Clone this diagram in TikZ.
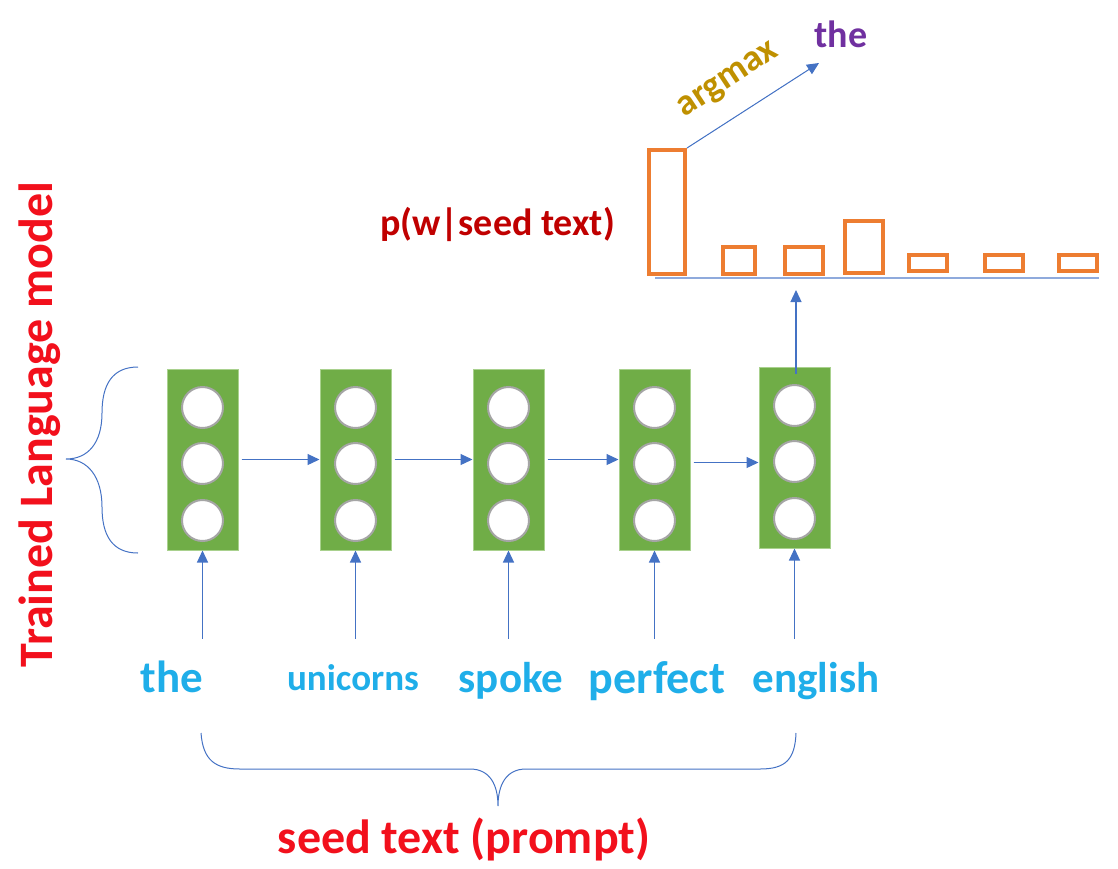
\documentclass[tikz,border=0pt]{standalone}
\usepackage{fontspec}
\setmainfont{Carlito}
\usetikzlibrary{arrows.meta, positioning}

\definecolor{cellgreen}{HTML}{70AD47}
\definecolor{edgegreen}{HTML}{A9D18E}
\definecolor{unitgray}{HTML}{A5A5A5}
\definecolor{lineblue}{HTML}{4472C4}
\definecolor{axisblue}{HTML}{8FAADC}
\definecolor{wordblue}{HTML}{1FAEE9}
\definecolor{barorange}{HTML}{ED7D31}
\definecolor{titlered}{HTML}{F2101C}
\definecolor{probred}{HTML}{C00000}
\definecolor{argold}{HTML}{BF9000}
\definecolor{outpurple}{HTML}{7030A0}

\begin{document}
\begin{tikzpicture}[
	x=1pt, y=-1pt,
	layer/.style={draw=edgegreen, fill=cellgreen, line width=1pt, minimum width=71pt, minimum height=181pt, inner sep=0pt},
	unit/.style={circle, draw=unitgray, fill=white, line width=2pt, minimum size=41pt, inner sep=0pt},
	arrow/.style={-{Triangle[length=12pt, width=11pt]}, draw=lineblue, fill=lineblue, line width=1.2pt},
	bar/.style={draw=barorange, fill=white, line width=4pt, inner sep=0pt, anchor=south},
	word/.style={text=wordblue, anchor=base},
	brace/.style={draw=lineblue, line width=1pt}
	]
	\useasboundingbox (0,0) rectangle (1118,868);
	
	% ======================
	% Schichten (RNN)
	% ======================
	\node[layer] (b1) at (202.5,459.5) {};
	\node[layer] (b2) at (355.5,459.5) {};
	\node[layer] (b3) at (508.5,459.5) {};
	\node[layer] (b4) at (654.5,459.5) {};
	\node[layer] (b5) at (794.5,457.5) {};
	
	% Neuronen
	\node[unit] (u11) at ([yshift=52pt]b1.center) {};
	\node[unit] (u12) at ([yshift=-4pt]b1.center) {};
	\node[unit] (u13) at ([yshift=-61pt]b1.center) {};
	\node[unit] (u21) at ([yshift=52pt]b2.center) {};
	\node[unit] (u22) at ([yshift=-4pt]b2.center) {};
	\node[unit] (u23) at ([yshift=-61pt]b2.center) {};
	\node[unit] (u31) at ([yshift=52pt]b3.center) {};
	\node[unit] (u32) at ([yshift=-4pt]b3.center) {};
	\node[unit] (u33) at ([yshift=-61pt]b3.center) {};
	\node[unit] (u41) at ([yshift=52pt]b4.center) {};
	\node[unit] (u42) at ([yshift=-4pt]b4.center) {};
	\node[unit] (u43) at ([yshift=-61pt]b4.center) {};
	\node[unit] (u51) at ([yshift=52pt]b5.center) {};
	\node[unit] (u52) at ([yshift=-4pt]b5.center) {};
	\node[unit] (u53) at ([yshift=-61pt]b5.center) {};
	
	% Verbindungen zwischen den Schichten
	\draw[arrow] ([xshift=3pt]b1.east) -- (b2.west);
	\draw[arrow] ([xshift=3pt]b2.east) -- (b3.west);
	\draw[arrow] ([xshift=3pt]b3.east) -- (b4.west);
	\draw[arrow] ([xshift=3pt,yshift=-3pt]b4.east) -- ([yshift=-3pt]b4.east -| b5.west);
	
	% ======================
	% Eingabe (seed text)
	% ======================
	\node[word, font=\fontsize{45}{50}\selectfont\bfseries] (w1) at (172,692) {the};
	\node[word, font=\fontsize{37}{42}\selectfont\bfseries] (w2) at (353,690) {unicorns};
	\node[word, font=\fontsize{43}{48}\selectfont\bfseries] (w3) at (511,692) {spoke};
	\node[word, font=\fontsize{46}{50}\selectfont\bfseries] (w4) at (657,693) {perfect};
	\node[word, font=\fontsize{43}{48}\selectfont\bfseries] (w5) at (816,692) {english};
	
	\draw[arrow] ([yshift=-88pt]b1.south) -- (b1.south);
	\draw[arrow] ([yshift=-88pt]b2.south) -- (b2.south);
	\draw[arrow] ([yshift=-88pt]b3.south) -- (b3.south);
	\draw[arrow] ([yshift=-88pt]b4.south) -- (b4.south);
	\draw[arrow] ([yshift=-90pt]b5.south) -- (b5.south);
	
	% geschweifte Klammer unten
	\draw[brace] (201,733) .. controls (203,760) and (215,769) .. (240,769) -- (470,769)
		.. controls (490,769) and (498,785) .. (498,806)
		.. controls (498,785) and (506,769) .. (526,769) -- (760,769)
		.. controls (785,769) and (795,760) .. (796,733);
	\node[text=titlered, font=\fontsize{48}{52}\selectfont\bfseries, anchor=base] (seed) at (464,853) {seed text (prompt)};
	
	% geschweifte Klammer links
	\draw[brace] (138,367) .. controls (112,367) and (102,385) .. (102,413)
		.. controls (102,443) and (88,459) .. (66,459)
		.. controls (88,459) and (102,477) .. (102,507)
		.. controls (102,535) and (112,553) .. (138,553);
	\node[text=titlered, font=\fontsize{48}{52}\selectfont\bfseries, anchor=base, rotate=90] (model) at (52,424.5) {Trained Language model};
	
	% ======================
	% Ausgabeverteilung
	% ======================
	\coordinate (ax0) at (655,278);
	\coordinate (ax1) at (1099,278);
	\draw[axisblue, line width=1.5pt] (ax0) -- (ax1);
	
	\node[bar, minimum width=36pt, minimum height=124pt] (bar1) at (667,276) {};
	\node[bar, minimum width=32pt, minimum height=27pt] (bar2) at (739,276) {};
	\node[bar, minimum width=38pt, minimum height=27pt] (bar3) at (804,276) {};
	\node[bar, minimum width=38pt, minimum height=52pt] (bar4) at (864,275) {};
	\node[bar, minimum width=38pt, minimum height=16pt] (bar5) at (928,273) {};
	\node[bar, minimum width=38pt, minimum height=16pt] (bar6) at (1004,273) {};
	\node[bar, minimum width=38pt, minimum height=16pt] (bar7) at (1078,273) {};
	
	\node[text=probred, font=\fontsize{38}{42}\selectfont\bfseries, anchor=base] (prob) at (497.5,235) {p(w|seed text)};
	
	% Ausgang der letzten Schicht
	\coordinate (out5) at (796,290);
	\coordinate (in5) at ([yshift=-7pt]b5.north);
	\draw[arrow] (in5 -| out5) -- (out5);
	
	% argmax
	\coordinate (tip) at (819,63);
	\draw[arrow, line width=1pt] (bar1.north east) -- (tip);
	\node[text=argold, font=\fontsize{37}{40}\selectfont\bfseries, rotate=33.4] (argmax) at (729,81) {argmax};
	\node[text=outpurple, font=\fontsize{38}{42}\selectfont\bfseries, anchor=base] (next) at (841,47) {the};
	
\end{tikzpicture}
\end{document}
